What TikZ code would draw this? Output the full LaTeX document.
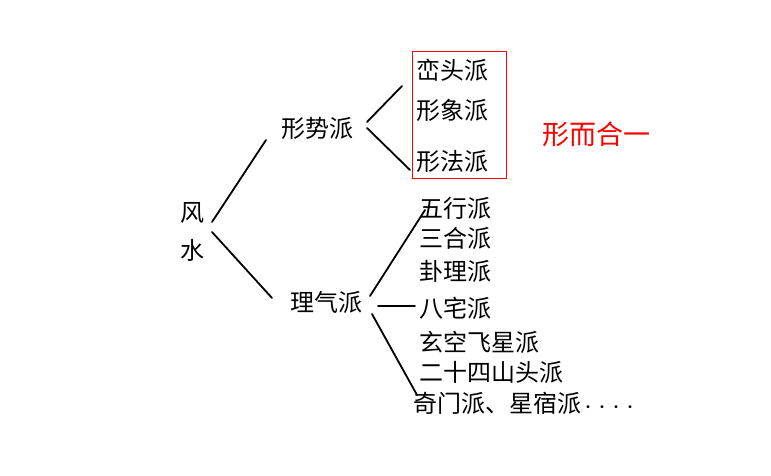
\documentclass[tikz,border=0pt]{standalone}
\usepackage{fontspec}
\setmainfont{Noto Sans CJK SC}
\begin{document}
\begin{tikzpicture}[x=1pt,y=-1pt,
  lbl/.style={font=\fontsize{24}{28}\selectfont, inner sep=1pt},
  item/.style={lbl, anchor=west},
  br/.style={line width=1.8pt, line cap=round}]
\useasboundingbox (0,0) rectangle (771,476);
\node[lbl] (feng) at (192,213) {风};
\node[lbl] (shui) at (192,250) {水};
\coordinate (r1) at (212,222);
\coordinate (r2) at (212,232);
\node[lbl] (xs) at (317,128) {形势派};
\node[lbl] (lq) at (326,302) {理气派};
\draw[br] (r1) -- (266,140);
\draw[br] (r2) -- (272,298);
\node[item] (a1) at (415,70) {峦头派};
\node[item] (a2) at (415,110) {形象派};
\node[item] (a3) at (415,161) {形法派};
\draw[red, line width=1pt] (412,52) rectangle (506,178);
\node[lbl, red, font=\fontsize{27}{30}\selectfont] (xe) at (596,134) {形而合一};
\draw[br] (367,122) -- (402,86);
\draw[br] (367,128) -- (410,170);
\node[item] (b1) at (418,208) {五行派};
\node[item] (b2) at (418,238) {三合派};
\node[item] (b3) at (418,271) {卦理派};
\node[item] (b4) at (418,308) {八宅派};
\node[item] (b5) at (418,342) {玄空飞星派};
\node[item] (b6) at (418,372) {二十四山头派};
\node[item] (b7) at (412,403) {奇门派、星宿派\fontsize{14}{16}\selectfont····};
\draw[br] (370,296) -- (425,210);
\draw[br] (378,306) -- (415,306);
\draw[br] (372,314) -- (417,395);
\end{tikzpicture}
\end{document}
